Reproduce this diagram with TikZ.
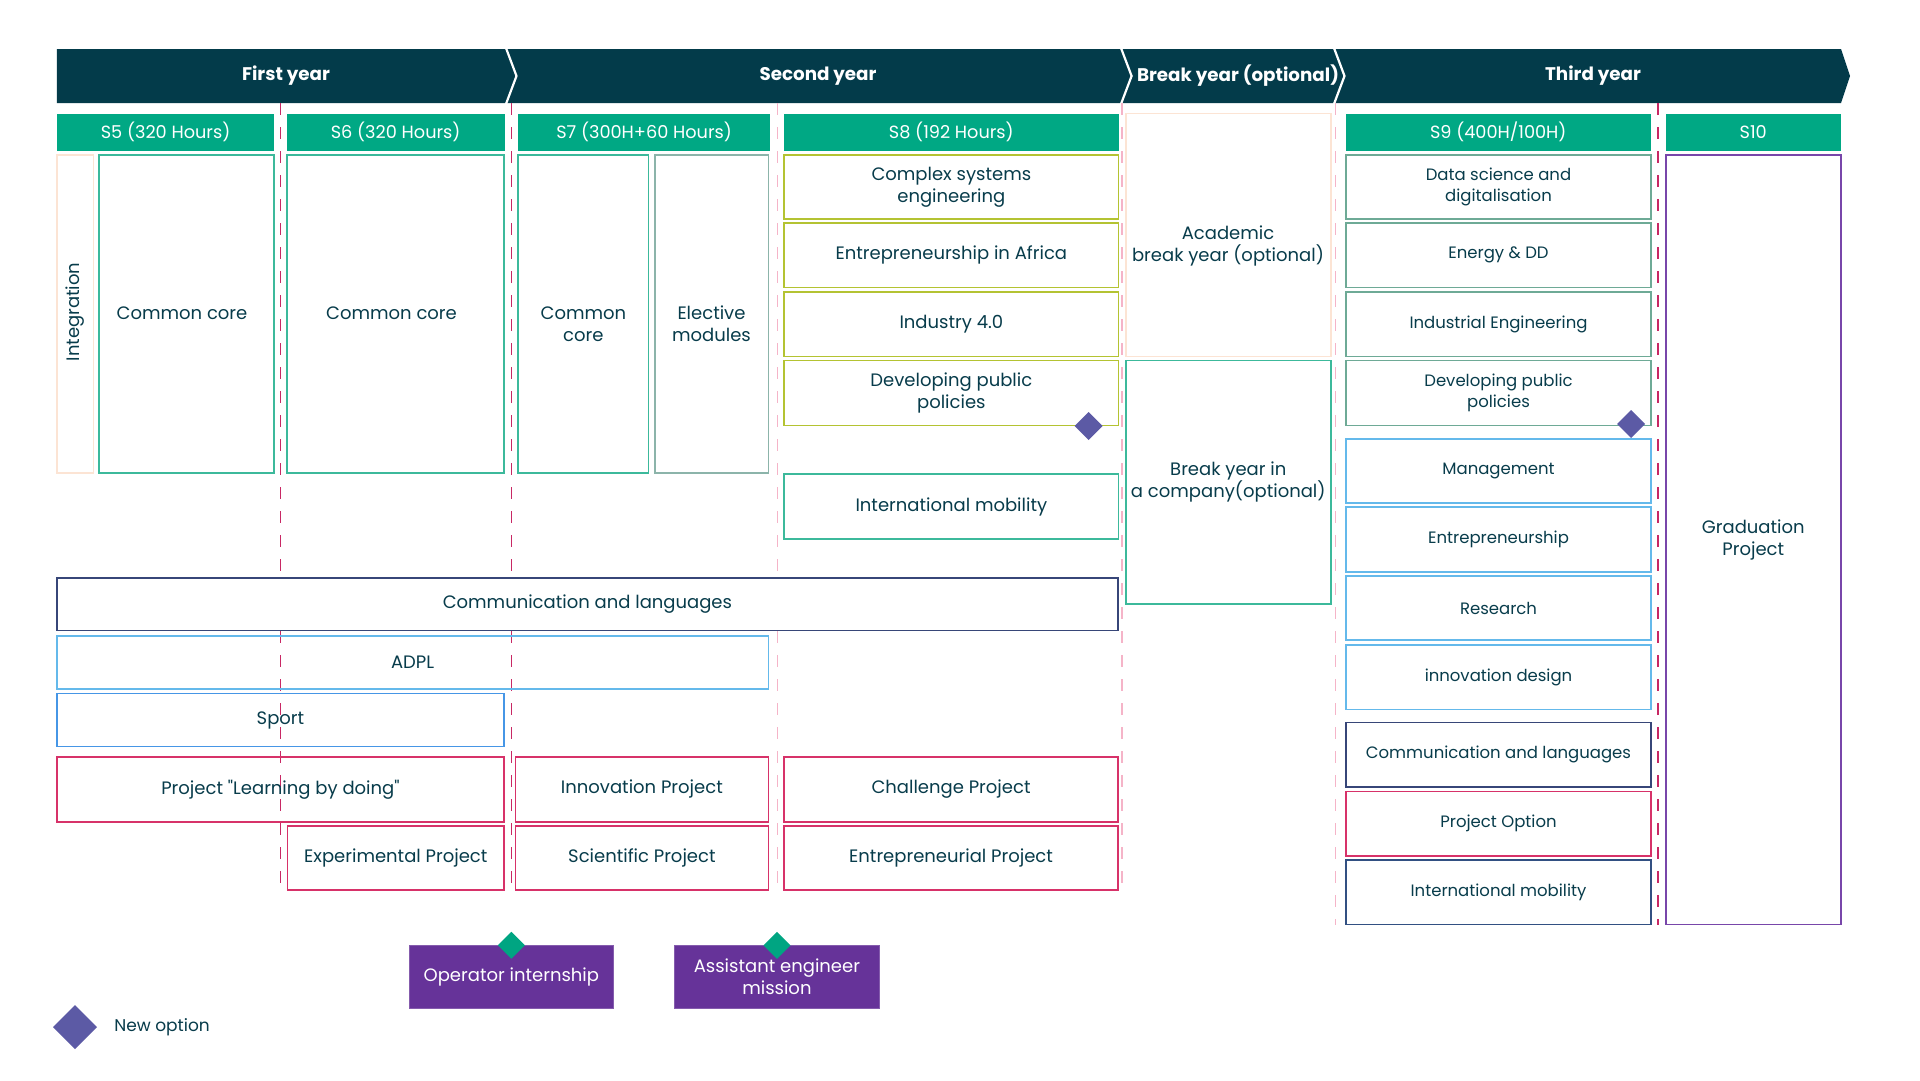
\documentclass[tikz,border=0pt]{standalone}
\usepackage{fontspec}
\setmainfont{Poppins}[Ligatures=TeXOff]
\usetikzlibrary{shapes.geometric}

\definecolor{hdr}{RGB}{3,59,74}
\definecolor{semfill}{RGB}{0,168,132}
\definecolor{txt}{RGB}{8,60,75}
\definecolor{tealb}{RGB}{60,185,155}
\definecolor{elecb}{RGB}{140,180,170}
\definecolor{oliveb}{RGB}{180,195,50}
\definecolor{gtealb}{RGB}{110,170,150}
\definecolor{peachb}{RGB}{252,228,212}
\definecolor{lblueb}{RGB}{100,185,235}
\definecolor{sblueb}{RGB}{70,150,230}
\definecolor{pinkb}{RGB}{215,50,105}
\definecolor{navyb}{RGB}{55,70,120}
\definecolor{steelb}{RGB}{50,80,130}
\definecolor{gradb}{RGB}{120,70,170}
\definecolor{purfill}{RGB}{102,51,153}
\definecolor{dpurple}{RGB}{92,90,165}
\definecolor{dteal}{RGB}{0,165,130}
\definecolor{crim}{RGB}{200,40,100}
\definecolor{lpink}{RGB}{245,180,200}

\newcommand{\mainfs}{\fontsize{18}{21.7}\selectfont}
\newcommand{\ninefs}{\fontsize{16.5}{21.7}\selectfont}
\newcommand{\semfs}{\fontsize{17.7}{21}\selectfont}
\newcommand{\hdrfs}{\fontsize{18.3}{22}\selectfont\bfseries}

% name, x1, y1, x2, y2, style, text
\newcommand{\rbox}[7]{\node[#6, minimum width={(#4)-(#2)}, minimum height={(#5)-(#3)}] (#1) at ({((#2)+(#4))/2},{((#3)+(#5))/2}) {#7};}

\tikzset{
  base/.style={inner sep=0pt, outer sep=0pt, align=center, text=txt, font=\mainfs},
  cell/.style={base, draw, line width=1.6pt},
  nine/.style={cell, font=\ninefs},
  semhdr/.style={base, fill=semfill, text=white, font=\semfs},
  hdrtxt/.style={base, text=white, font=\hdrfs},
  purbox/.style={base, fill=purfill, draw=purfill!80!white, line width=1.2pt, text=white},
  gem/.style={shape=diamond, inner sep=0pt, outer sep=0pt, minimum width=28, minimum height=28},
  sepdark/.style={draw=crim, line width=1.7pt, dash pattern=on 12pt off 12pt},
  seplight/.style={draw=lpink, line width=1.7pt, dash pattern=on 12pt off 12pt},
}

\begin{document}
\begin{tikzpicture}[x=1pt,y=-1pt]
\useasboundingbox[fill=white] (0,0) rectangle (1920,1080);

% ---- header band
\fill[hdr] (56.8,49) -- (1841,49) -- (1850,76) -- (1841,103) -- (56.8,103) -- cycle;
\draw[white, line width=2.2pt] (506,48) -- (516.5,76) -- (506,104);
\draw[white, line width=2.2pt] (1121,48) -- (1131.6,76) -- (1121,104);
\draw[white, line width=2.2pt] (1334,48) -- (1344.5,76) -- (1334,104);
\node[hdrtxt] (y1) at (286,76) {First year};
\node[hdrtxt] (y2) at (818,76) {Second year};
\node[hdrtxt] (y3) at (1238,76) {Break year (optional)};
\node[hdrtxt] (y4) at (1593,76) {Third year};

% ---- dashed separators
\draw[sepdark]  (280.6,103) -- (280.6,890.2);
\draw[sepdark]  (511.4,103) -- (511.4,890.2);
\draw[seplight] (777.6,103) -- (777.6,890.2);
\draw[seplight] (1122.3,103) -- (1122.3,890.2);
\draw[seplight] (1335.5,103) -- (1335.5,924.6);
\draw[sepdark]  (1658,103) -- (1658,924.6);

% ---- semester headers
\rbox{s5}{56.8}{114}{274.4}{150.5}{semhdr}{S5 (320 Hours)}
\rbox{s6}{286.8}{114}{504.5}{150.5}{semhdr}{S6 (320 Hours)}
\rbox{s7}{518.2}{114}{770}{150.5}{semhdr}{S7 (300H+60 Hours)}
\rbox{s8}{784.1}{114}{1118.6}{150.5}{semhdr}{S8 (192 Hours)}
\rbox{s9}{1345.5}{114}{1651}{150.5}{semhdr}{S9 (400H/100H)}
\rbox{s10}{1665.5}{114}{1841}{150.5}{semhdr}{S10}

% ---- first year
\rbox{integ}{56.8}{155}{93.3}{473}{cell, draw=peachb}{}
\node[base, rotate=90] (integt) at (74.8,312) {Integration};
\rbox{cc5}{99.2}{155}{273.8}{473}{cell, draw=tealb}{}
\node[base] (cc5t) at (182,313) {Common core};
\rbox{cc6}{287.2}{155}{504.1}{473}{cell, draw=tealb}{}
\node[base] (cc6t) at (391.5,313) {Common core};

% ---- S7
\rbox{cc7}{518.2}{155}{648.5}{473}{cell, draw=tealb}{}
\node[base] (cc7t) at (583.4,324) {Common\\core};
\rbox{el7}{654.7}{155}{768.3}{473}{cell, draw=elecb}{}
\node[base] (el7t) at (711.5,324) {Elective\\modules};

% ---- S8
\rbox{cse}{784.1}{155}{1118.6}{219}{cell, draw=oliveb}{Complex systems\\engineering}
\rbox{eia}{784.1}{223}{1118.6}{287.5}{cell, draw=oliveb}{Entrepreneurship in Africa}
\rbox{ind}{784.1}{292}{1118.6}{356.4}{cell, draw=oliveb}{Industry 4.0}
\rbox{dpp8}{784.1}{360.5}{1118.6}{425.3}{cell, draw=oliveb}{Developing public\\policies}
\rbox{im8}{784.1}{474.2}{1118.6}{539}{cell, draw=tealb}{International mobility}

% ---- break year
\rbox{brk1}{1125.8}{113.6}{1330.7}{356.4}{cell, draw=peachb}{}
\node[base] (brk1t) at (1228,246) {Academic\\break year (optional)};
\rbox{brk2}{1125.8}{360.5}{1330.7}{603.7}{cell, draw=tealb}{Break year in\\a company(optional)}

% ---- S9
\rbox{ds}{1346}{155}{1651}{219}{nine, draw=gtealb}{Data science and\\digitalisation}
\rbox{en}{1346}{223}{1651}{287.5}{nine, draw=gtealb}{Energy \& DD}
\rbox{ie}{1346}{292}{1651}{356.4}{nine, draw=gtealb}{Industrial Engineering}
\rbox{dpp9}{1346}{360.5}{1651}{425.3}{nine, draw=gtealb}{Developing public\\policies}
\rbox{mg}{1346}{439}{1651}{502.8}{nine, draw=lblueb}{Management}
\rbox{ent}{1346}{507.2}{1651}{571.7}{nine, draw=lblueb}{Entrepreneurship}
\rbox{res}{1346}{576.2}{1651}{640.2}{nine, draw=lblueb}{Research}
\rbox{ides}{1346}{645}{1651}{709.4}{nine, draw=lblueb}{innovation design}
\rbox{cl9}{1346}{722.5}{1651}{787}{nine, draw=navyb}{Communication and languages}
\rbox{po}{1346}{791.4}{1651}{855.8}{nine, draw=pinkb}{Project Option}
\rbox{im9}{1346}{860.2}{1651}{924.6}{nine, draw=steelb}{International mobility}

% ---- S10
\rbox{grad}{1665.8}{155}{1840.7}{924.6}{cell, draw=gradb}{Graduation\\Project}

% ---- transversal rows
\rbox{cl}{56.8}{577.9}{1118}{630.6}{cell, draw=navyb, fill=white}{Communication and languages}
\rbox{adpl}{56.8}{636}{768.3}{688.8}{cell, draw=lblueb}{ADPL}
\rbox{sport}{56.8}{693.6}{504.1}{746.6}{cell, draw=sblueb}{Sport}
\rbox{lbd}{56.8}{757}{504.1}{821.7}{cell, draw=pinkb}{Project "Learning by doing"}
\rbox{exp}{287.5}{825.8}{504.1}{890.2}{cell, draw=pinkb}{Experimental Project}
\rbox{inn}{515.5}{757}{768.3}{821.7}{cell, draw=pinkb}{Innovation Project}
\rbox{sci}{515.5}{825.8}{768.3}{890.2}{cell, draw=pinkb}{Scientific Project}
\rbox{chal}{784.1}{757}{1118}{821.7}{cell, draw=pinkb}{Challenge Project}
\rbox{entp}{784.1}{825.8}{1118}{890.2}{cell, draw=pinkb}{Entrepreneurial Project}

% ---- internships
\rbox{op}{409.4}{945.6}{613.3}{1008.3}{purbox}{Operator internship}
\rbox{aem}{674.6}{945.6}{879.2}{1008.3}{purbox}{Assistant engineer\\mission}

% ---- diamonds
\node[gem, fill=dpurple] (g1) at (1088.6,426) {};
\node[gem, fill=dpurple] (g2) at (1631,424) {};
\node[gem, fill=dteal, minimum width=27, minimum height=27] (g3) at (511.4,945.3) {};
\node[gem, fill=dteal, minimum width=27, minimum height=27] (g4) at (777,945.3) {};

% ---- legend
\node[gem, fill=dpurple, minimum width=44, minimum height=44] (leg) at (75,1027) {};
\node[base, anchor=west, font=\fontsize{17}{20}\selectfont] (legt) at (114.3,1027) {New option};
\end{tikzpicture}
\end{document}
